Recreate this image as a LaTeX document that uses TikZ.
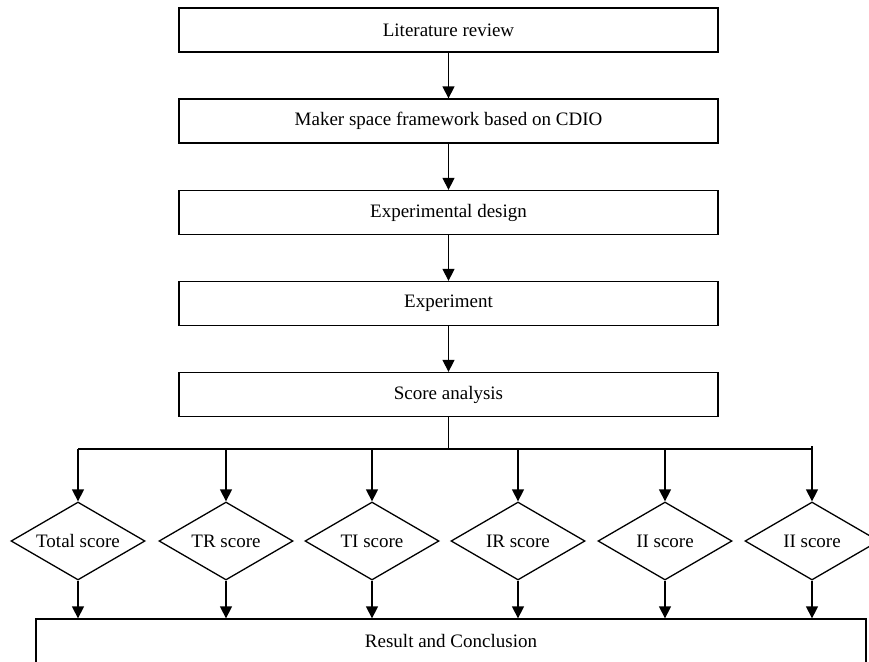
\documentclass[tikz,border=0pt]{standalone}
\usepackage{fontspec}
\setmainfont{Liberation Serif}
\usetikzlibrary{arrows.meta,shapes.geometric}
\begin{document}
\begin{tikzpicture}[x=1pt,y=-1pt,
  line width=1.3pt,
  every node/.style={font=\fontsize{19}{22}\selectfont},
  stepbox/.style={draw, rectangle, minimum width=539pt, minimum height=44pt, inner sep=0pt},
  decbox/.style={draw, diamond, aspect=1.718, minimum width=134pt, minimum height=78pt, inner sep=0pt},
  resbox/.style={draw, rectangle, minimum width=830pt, minimum height=44pt, inner sep=0pt},
  arr/.style={-{Triangle[length=12pt,width=12pt]}},
  plain/.style={-}]
\useasboundingbox (0,0) rectangle (869,661);
\clip (0,0) rectangle (869,661);
\fill[white] (0,0) rectangle (869,661);
\node[stepbox] (b1) at (448.5,30) {Literature review};
\node[stepbox] (b2) at (448.5,121) {Maker space framework based on CDIO};
\node[stepbox] (b3) at (448.5,212.5) {Experimental design};
\node[stepbox] (b4) at (448.5,303.5) {Experiment};
\node[stepbox] (b5) at (448.5,394.5) {Score analysis};
\node[decbox] (d1) at (78,541) {Total score};
\node[decbox] (d2) at (226,541) {TR score};
\node[decbox] (d3) at (372,541) {TI score};
\node[decbox] (d4) at (518,541) {IR score};
\node[decbox] (d5) at (665,541) {II score};
\node[decbox] (d6) at (812,541) {II score};
\node[resbox] (res) at (451,641) {Result and Conclusion};
\coordinate (j) at (448.5,449);
\coordinate (hl) at (78,449);
\coordinate (hr) at (812,449);
\coordinate (hrtop) at (812,446);
\draw[arr] (b1) -- (b2);
\draw[arr] (b2) -- (b3);
\draw[arr] (b3) -- (b4);
\draw[arr] (b4) -- (b5);
\draw[plain] (b5.south) -- (j);
\draw[plain] (hl) -- (hr);
\foreach \d in {d1,d2,d3,d4,d5}{
  \draw[arr] (\d.north |- j) -- (\d.north);
}
\draw[arr] (hrtop) -- (d6.north);
\foreach \d in {d1,d2,d3,d4,d5,d6}{
  \draw[arr] (\d.south) -- (\d.south |- res.north);
}
\end{tikzpicture}
\end{document}
